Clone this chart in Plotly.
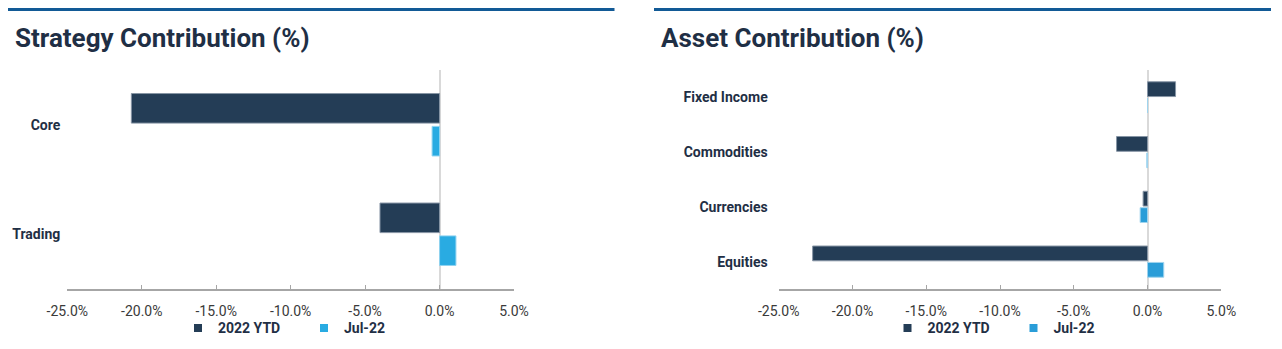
import plotly.graph_objects as go

# ---- data -------------------------------------------------------------
strategy_categories = ["Core", "Trading"]
strategy_ytd = [-20.7, -4.0]
strategy_jul = [-0.5, 1.1]

asset_categories = ["Fixed Income", "Commodities", "Currencies", "Equities"]
asset_ytd = [1.9, -2.1, -0.3, -22.7]
asset_jul = [0.0, -0.05, -0.5, 1.1]

series_names = ["2022 YTD", "Jul-22"]
tick_values = [-25, -20, -15, -10, -5, 0, 5]
tick_labels = ["-25.0%", "-20.0%", "-15.0%", "-10.0%", "-5.0%", "0.0%", "5.0%"]

# ---- styling ----------------------------------------------------------
W, H = 1282, 349
NAVY = "#243d56"
NAVY_EDGE = "#8795a5"
SKY_L = "#29abe2"
SKY_L_EDGE = "#8fd3f0"
SKY_R = "#2a9dd8"
SKY_R_EDGE = "#9fd4ee"
TEXT = "#1f2f45"
TICK_TEXT = "#3a3a3a"
RULE = "#125a96"


def px_x(p):
    return p / W


def px_y(p):
    return 1 - p / H


y_dom = [px_y(289), px_y(70)]
left_dom = [px_x(67.3), px_x(514)]
right_dom = [px_x(778.7), px_x(1221.3)]

fig = go.Figure()

# left panel: strategy contribution
fig.add_trace(go.Bar(
    y=strategy_categories, x=strategy_ytd, orientation="h", name=series_names[0],
    marker=dict(color=NAVY, line=dict(color=NAVY_EDGE, width=1)),
    xaxis="x", yaxis="y", showlegend=False, hoverinfo="x+y"))
fig.add_trace(go.Bar(
    y=strategy_categories, x=strategy_jul, orientation="h", name=series_names[1],
    marker=dict(color=SKY_L, line=dict(color=SKY_L_EDGE, width=1)),
    xaxis="x", yaxis="y", showlegend=False, hoverinfo="x+y"))

# right panel: asset contribution
fig.add_trace(go.Bar(
    y=asset_categories, x=asset_ytd, orientation="h", name=series_names[0],
    marker=dict(color=NAVY, line=dict(color=NAVY_EDGE, width=1)),
    xaxis="x2", yaxis="y2", showlegend=False, hoverinfo="x+y"))
fig.add_trace(go.Bar(
    y=asset_categories, x=asset_jul, orientation="h", name=series_names[1],
    marker=dict(color=SKY_R, line=dict(color=SKY_R_EDGE, width=1)),
    xaxis="x2", yaxis="y2", showlegend=False, hoverinfo="x+y"))

# legend entries (small square keys)
for legend_id, xa, ya, colors in [("legend", "x", "y", [NAVY, SKY_L]),
                                  ("legend2", "x2", "y2", [NAVY, SKY_R])]:
    for name, col in zip(series_names, colors):
        fig.add_trace(go.Scatter(
            x=[None], y=[None], mode="markers", name=name,
            marker=dict(symbol="square", size=8, color=col),
            xaxis=xa, yaxis=ya, legend=legend_id, showlegend=True))

axis_common = dict(
    range=[-25, 5], tickvals=tick_values, ticktext=tick_labels,
    showgrid=False, zeroline=True, zerolinecolor="#d9d9d9", zerolinewidth=2,
    showline=True, linecolor="#a6a6a6", linewidth=1.5,
    ticks="inside", ticklen=4, tickcolor="#a6a6a6", tickwidth=1,
    tickfont=dict(family="Roboto", size=14, color=TICK_TEXT),
    ticklabelstandoff=8, fixedrange=True, automargin=False,
)
cat_common = dict(
    type="category", autorange="reversed", showgrid=False, showline=False,
    zeroline=False, ticks="", fixedrange=True, automargin=False,
    tickfont=dict(family="Roboto", size=14, color=TEXT, weight="bold"),
)

legend_common = dict(
    orientation="h", xanchor="left", yanchor="middle",
    font=dict(family="Roboto", size=14, color=TEXT, weight="bold"),
    itemwidth=30, indentation=-12, entrywidth=93, entrywidthmode="pixels",
    bgcolor="rgba(0,0,0,0)", itemclick=False, itemdoubleclick=False,
)

fig.update_layout(
    template="none",
    width=W, height=H,
    margin=dict(l=0, r=0, t=0, b=0, autoexpand=False),
    paper_bgcolor="white", plot_bgcolor="white",
    font=dict(family="Roboto", color=TEXT),
    barmode="group", bargap=0.4, bargroupgap=0.1,
    xaxis=dict(domain=left_dom, anchor="y", **axis_common),
    yaxis=dict(domain=y_dom, anchor="x", categoryarray=strategy_categories,
               ticklabelstandoff=6, **cat_common),
    xaxis2=dict(domain=right_dom, anchor="y2", **axis_common),
    yaxis2=dict(domain=y_dom, anchor="x2", categoryarray=asset_categories,
                ticklabelstandoff=10, **cat_common),
    legend=dict(x=px_x(190), y=px_y(328.3), **legend_common),
    legend2=dict(x=px_x(899.5), y=px_y(328.3), **legend_common),
    showlegend=True,
    shapes=[
        dict(type="line", xref="paper", yref="paper",
             x0=px_x(8), x1=px_x(614.5), y0=px_y(9.5), y1=px_y(9.5),
             line=dict(color=RULE, width=3)),
        dict(type="line", xref="paper", yref="paper",
             x0=px_x(654), x1=px_x(1271), y0=px_y(9.5), y1=px_y(9.5),
             line=dict(color=RULE, width=3)),
    ],
    annotations=[
        dict(text="Strategy Contribution (%)", xref="paper", yref="paper",
             x=px_x(13), y=px_y(38), xanchor="left", yanchor="middle",
             showarrow=False,
             font=dict(family="Roboto", size=26, color=TEXT, weight="bold")),
        dict(text="Asset Contribution (%)", xref="paper", yref="paper",
             x=px_x(659), y=px_y(38), xanchor="left", yanchor="middle",
             showarrow=False,
             font=dict(family="Roboto", size=26, color=TEXT, weight="bold")),
    ],
)

fig.write_html("out.html", config={"displayModeBar": False})
